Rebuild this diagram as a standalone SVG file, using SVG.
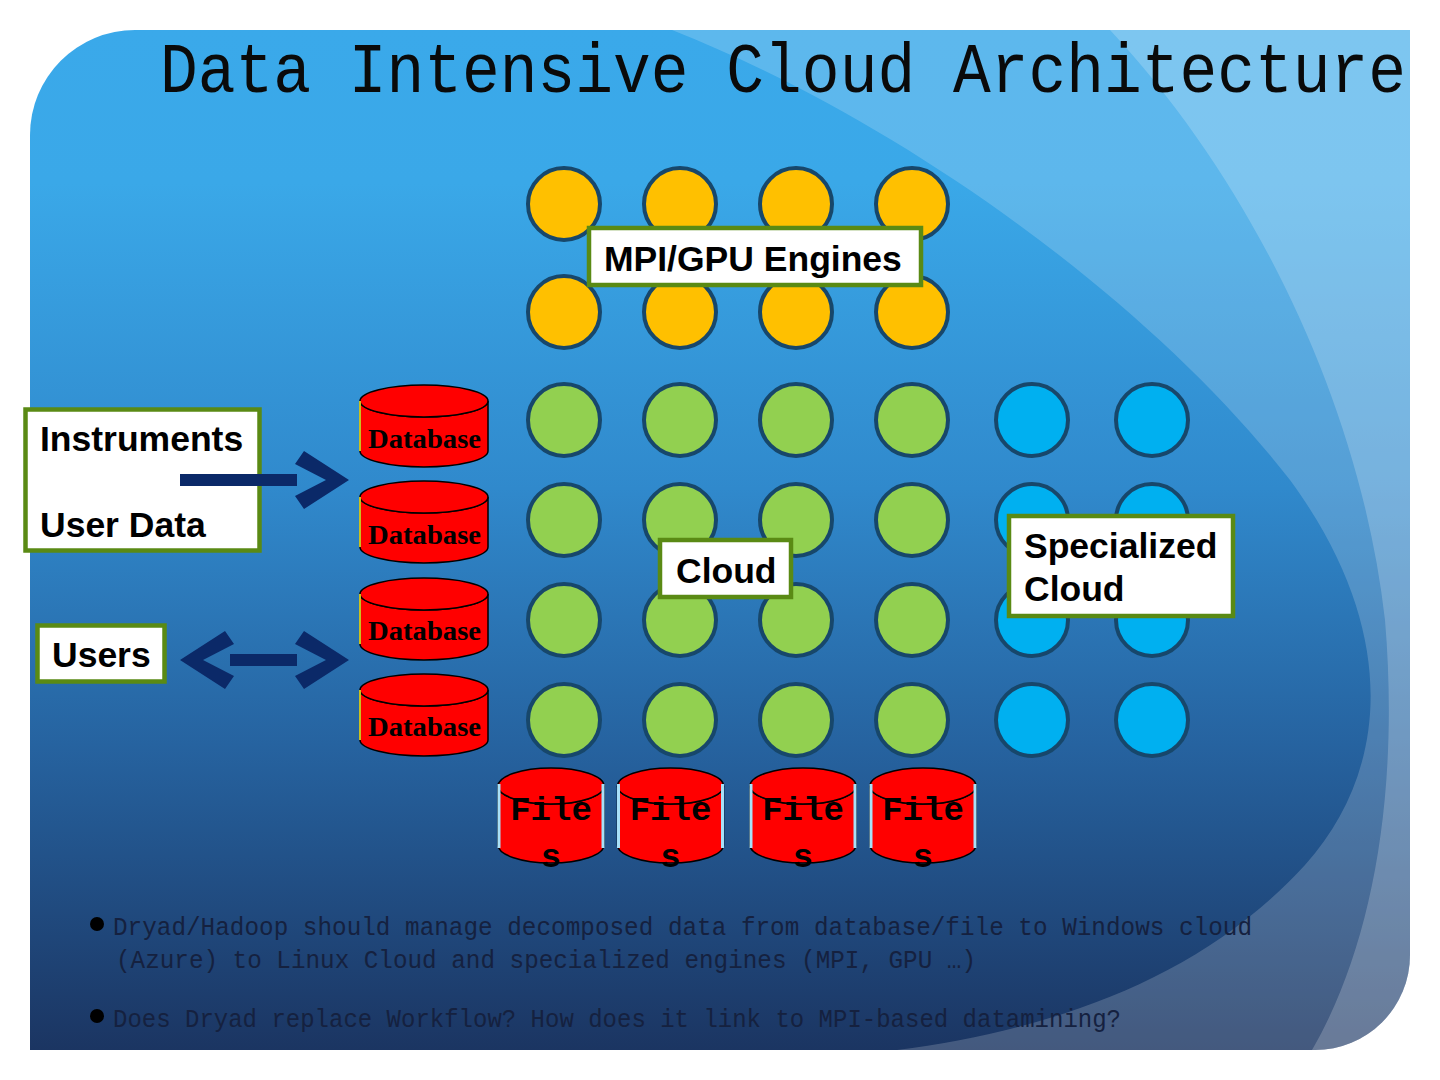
<svg xmlns="http://www.w3.org/2000/svg" width="1440" height="1080" viewBox="0 0 1440 1080">
<defs>
<style>
.bg{fill:#ffffff}
.yel{fill:#ffc000;stroke:#17476b;stroke-width:4}
.grn{fill:#92d050;stroke:#17476b;stroke-width:4}
.blu{fill:#00b0f0;stroke:#17476b;stroke-width:4}
.box{fill:#ffffff;stroke:#5a8a14;stroke-width:4.5}
.lbl{font-family:"Liberation Sans",Arial,sans-serif;font-weight:bold;font-size:35.5px;fill:#000}
.cyl{fill:#ff0000;stroke:#000;stroke-width:1.5}
.dbt{font-family:"Liberation Serif","Times New Roman",serif;font-weight:bold;font-size:27px;fill:#000}
.fit{font-family:"Liberation Mono","Courier New",monospace;font-weight:bold;font-size:34px;fill:#000;text-anchor:middle}
.side{stroke:#a8e0f8;stroke-width:3}
.arr{fill:#0b2968}
.title{font-family:"Liberation Mono","Courier New",monospace;font-size:70px;fill:#0a0a0a}
.bul{font-family:"Liberation Mono","Courier New",monospace;font-size:26px;fill:#15213f}
</style>
<linearGradient id="bgGrad" x1="0" y1="30" x2="0" y2="1050" gradientUnits="userSpaceOnUse">
<stop offset="0" stop-color="#3aa9ea"/>
<stop offset="0.15" stop-color="#3aa8e8"/>
<stop offset="0.45" stop-color="#3089cc"/>
<stop offset="0.7" stop-color="#2663a0"/>
<stop offset="1" stop-color="#1b3562"/>
</linearGradient>
<clipPath id="slideClip">
<path d="M 135,30 H 1410 V 955 A 95,95 0 0 1 1315,1050 H 30 V 135 A 105,105 0 0 1 135,30 Z"/>
</clipPath>
</defs>

<rect class="bg" x="0" y="0" width="1440" height="1080"/>

<g id="background" clip-path="url(#slideClip)">
<rect x="30" y="30" width="1380" height="1020" fill="url(#bgGrad)"/>
<path d="M 672,30 C 900,120 1150,300 1290,480 C 1400,630 1390,770 1305,865 C 1200,980 1050,1030 897,1050 L 1410,1050 L 1410,30 Z" fill="#ffffff" fill-opacity="0.18"/>
<path d="M 1110,30 C 1250,180 1360,400 1385,620 C 1400,800 1370,950 1312,1050 L 1410,1050 L 1410,30 Z" fill="#ffffff" fill-opacity="0.2"/>
</g>

<text id="title" class="title" x="160" y="92" textLength="1246" lengthAdjust="spacingAndGlyphs">Data Intensive Cloud Architecture</text>

<g id="mpi-engines">
<circle class="yel" cx="564" cy="204" r="36"/>
<circle class="yel" cx="680" cy="204" r="36"/>
<circle class="yel" cx="796" cy="204" r="36"/>
<circle class="yel" cx="912" cy="204" r="36"/>
<circle class="yel" cx="564" cy="312" r="36"/>
<circle class="yel" cx="680" cy="312" r="36"/>
<circle class="yel" cx="796" cy="312" r="36"/>
<circle class="yel" cx="912" cy="312" r="36"/>
</g>

<g id="cloud-nodes">
<circle class="grn" cx="564" cy="420" r="36"/>
<circle class="grn" cx="680" cy="420" r="36"/>
<circle class="grn" cx="796" cy="420" r="36"/>
<circle class="grn" cx="912" cy="420" r="36"/>
<circle class="grn" cx="564" cy="520" r="36"/>
<circle class="grn" cx="680" cy="520" r="36"/>
<circle class="grn" cx="796" cy="520" r="36"/>
<circle class="grn" cx="912" cy="520" r="36"/>
<circle class="grn" cx="564" cy="620" r="36"/>
<circle class="grn" cx="680" cy="620" r="36"/>
<circle class="grn" cx="796" cy="620" r="36"/>
<circle class="grn" cx="912" cy="620" r="36"/>
<circle class="grn" cx="564" cy="720" r="36"/>
<circle class="grn" cx="680" cy="720" r="36"/>
<circle class="grn" cx="796" cy="720" r="36"/>
<circle class="grn" cx="912" cy="720" r="36"/>
</g>

<g id="specialized-nodes">
<circle class="blu" cx="1032" cy="420" r="36"/>
<circle class="blu" cx="1152" cy="420" r="36"/>
<circle class="blu" cx="1032" cy="520" r="36"/>
<circle class="blu" cx="1152" cy="520" r="36"/>
<circle class="blu" cx="1032" cy="620" r="36"/>
<circle class="blu" cx="1152" cy="620" r="36"/>
<circle class="blu" cx="1032" cy="720" r="36"/>
<circle class="blu" cx="1152" cy="720" r="36"/>
</g>

<g id="label-mpi">
<rect class="box" x="589" y="228" width="332" height="57"/>
<text class="lbl" x="604" y="271">MPI/GPU Engines</text>
</g>

<g id="label-cloud">
<rect class="box" x="660" y="540" width="131" height="57"/>
<text class="lbl" x="676" y="583">Cloud</text>
</g>

<g id="label-specialized">
<rect class="box" x="1009" y="516" width="224" height="100"/>
<text class="lbl" x="1024" y="558">Specialized</text>
<text class="lbl" x="1024" y="601">Cloud</text>
</g>

<g id="instruments">
<rect class="box" x="25.5" y="409.5" width="234" height="141"/>
<text class="lbl" x="40" y="451">Instruments</text>
<text class="lbl" x="40" y="537">User Data</text>
</g>

<g id="users">
<rect class="box" x="37.5" y="625.5" width="127" height="56"/>
<text class="lbl" x="52" y="667">Users</text>
</g>

<g id="database-1">
<path class="cyl" d="M 360,401 V 451 A 64,16 0 0 0 488,451 V 401 A 64,16 0 0 1 360,401 Z"/>
<ellipse class="cyl" cx="424" cy="401" rx="64" ry="16"/>
<line x1="360" y1="401" x2="360" y2="451" stroke="#c8c020" stroke-width="2"/>
<text class="dbt" x="368" y="448" textLength="113" lengthAdjust="spacingAndGlyphs">Database</text>
</g>
<g id="database-2">
<path class="cyl" d="M 360,497 V 547 A 64,16 0 0 0 488,547 V 497 A 64,16 0 0 1 360,497 Z"/>
<ellipse class="cyl" cx="424" cy="497" rx="64" ry="16"/>
<line x1="360" y1="497" x2="360" y2="547" stroke="#c8c020" stroke-width="2"/>
<text class="dbt" x="368" y="544" textLength="113" lengthAdjust="spacingAndGlyphs">Database</text>
</g>
<g id="database-3">
<path class="cyl" d="M 360,594 V 644 A 64,16 0 0 0 488,644 V 594 A 64,16 0 0 1 360,594 Z"/>
<ellipse class="cyl" cx="424" cy="594" rx="64" ry="16"/>
<line x1="360" y1="594" x2="360" y2="644" stroke="#c8c020" stroke-width="2"/>
<text class="dbt" x="368" y="640" textLength="113" lengthAdjust="spacingAndGlyphs">Database</text>
</g>
<g id="database-4">
<path class="cyl" d="M 360,690 V 740 A 64,16 0 0 0 488,740 V 690 A 64,16 0 0 1 360,690 Z"/>
<ellipse class="cyl" cx="424" cy="690" rx="64" ry="16"/>
<line x1="360" y1="690" x2="360" y2="740" stroke="#c8c020" stroke-width="2"/>
<text class="dbt" x="368" y="736" textLength="113" lengthAdjust="spacingAndGlyphs">Database</text>
</g>

<g id="files-1">
<path class="cyl" d="M 498,786 V 845 A 53,18 0 0 0 604,845 V 786 A 53,18 0 0 1 498,786 Z"/>
<ellipse class="cyl" cx="551" cy="786" rx="53" ry="18"/>
<line class="side" x1="499" y1="784" x2="499" y2="848"/>
<line class="side" x1="603" y1="784" x2="603" y2="848"/>
<text class="fit" x="551" y="820">File</text>
<text class="fit" x="551" y="867">s</text>
</g>
<g id="files-2">
<path class="cyl" d="M 617.5,786 V 845 A 53,18 0 0 0 723.5,845 V 786 A 53,18 0 0 1 617.5,786 Z"/>
<ellipse class="cyl" cx="670.5" cy="786" rx="53" ry="18"/>
<line class="side" x1="618.5" y1="784" x2="618.5" y2="848"/>
<line class="side" x1="722.5" y1="784" x2="722.5" y2="848"/>
<text class="fit" x="670.5" y="820">File</text>
<text class="fit" x="670.5" y="867">s</text>
</g>
<g id="files-3">
<path class="cyl" d="M 750,786 V 845 A 53,18 0 0 0 856,845 V 786 A 53,18 0 0 1 750,786 Z"/>
<ellipse class="cyl" cx="803" cy="786" rx="53" ry="18"/>
<line class="side" x1="751" y1="784" x2="751" y2="848"/>
<line class="side" x1="855" y1="784" x2="855" y2="848"/>
<text class="fit" x="803" y="820">File</text>
<text class="fit" x="803" y="867">s</text>
</g>
<g id="files-4">
<path class="cyl" d="M 870,786 V 845 A 53,18 0 0 0 976,845 V 786 A 53,18 0 0 1 870,786 Z"/>
<ellipse class="cyl" cx="923" cy="786" rx="53" ry="18"/>
<line class="side" x1="871" y1="784" x2="871" y2="848"/>
<line class="side" x1="975" y1="784" x2="975" y2="848"/>
<text class="fit" x="923" y="820">File</text>
<text class="fit" x="923" y="867">s</text>
</g>

<g id="connectors">
<rect class="arr" x="180" y="474" width="117" height="12"/>
<polygon class="arr" points="295,464 304,451 349,480 304,509 295,496 326,480"/>
<rect class="arr" x="230" y="654" width="67" height="12"/>
<polygon class="arr" points="295,644 304,631 349,660 304,689 295,676 326,660"/>
<polygon class="arr" points="234,644 225,631 180,660 225,689 234,676 203,660"/>
</g>

<g id="notes">
<circle cx="97" cy="924" r="7" fill="#000"/>
<text class="bul" x="113" y="935" textLength="1139" lengthAdjust="spacingAndGlyphs">Dryad/Hadoop  should manage decomposed data from database/file to Windows cloud</text>
<text class="bul" x="116" y="968" textLength="860" lengthAdjust="spacingAndGlyphs">(Azure) to Linux Cloud and specialized engines (MPI, GPU …)</text>
<circle cx="97" cy="1016" r="7" fill="#000"/>
<text class="bul" x="113" y="1027" textLength="1008" lengthAdjust="spacingAndGlyphs">Does Dryad replace Workflow? How does it link to MPI-based datamining?</text>
</g>
</svg>
